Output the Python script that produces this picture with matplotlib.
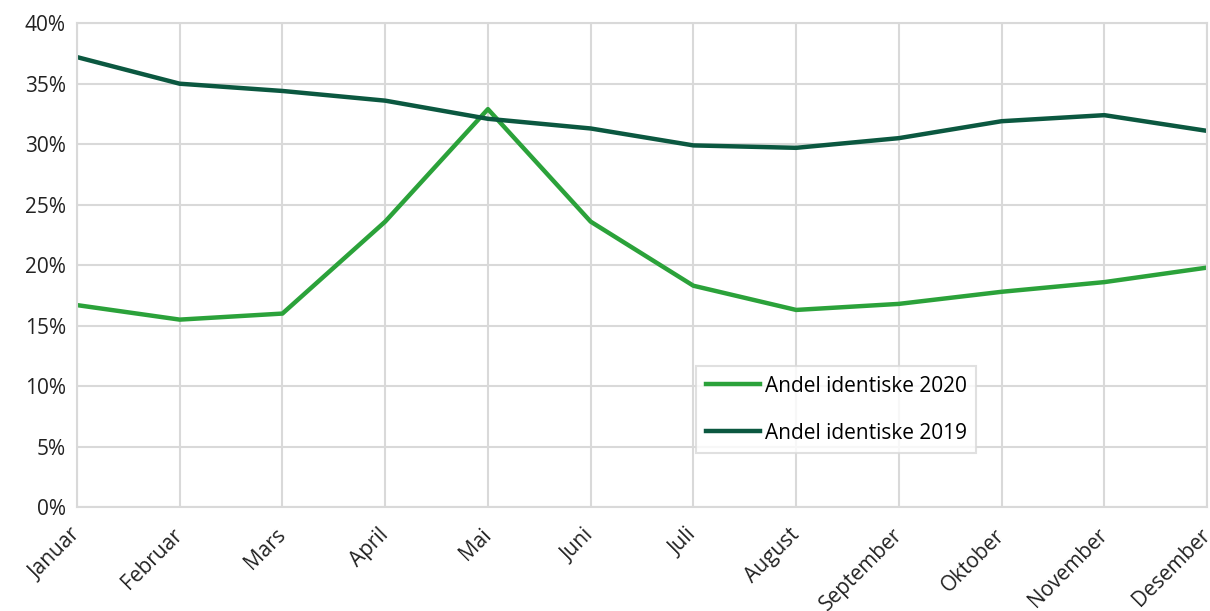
import numpy as np
import matplotlib.pyplot as plt
from matplotlib.ticker import PercentFormatter

plt.rcParams['font.family'] = ['Open Sans', 'DejaVu Sans']

months = ["Januar", "Februar", "Mars", "April", "Mai", "Juni", "Juli",
          "August", "September", "Oktober", "November", "Desember"]
share_2020 = [16.7, 15.5, 16.0, 23.6, 32.9, 23.6, 18.3, 16.3, 16.8, 17.8, 18.6, 19.8]
share_2019 = [37.2, 35.0, 34.4, 33.6, 32.1, 31.3, 29.9, 29.7, 30.5, 31.9, 32.4, 31.1]

fig = plt.figure(figsize=(12.1, 6.11), dpi=100)
ax = fig.add_axes([0.0636, 0.170, 0.934, 0.792])

x = np.arange(len(months))
ax.plot(x, share_2020, color="#2ba23a", linewidth=3.2, label="Andel identiske 2020")
ax.plot(x, share_2019, color="#0b5840", linewidth=3.2, label="Andel identiske 2019")

ax.set_xlim(0, len(months) - 1)
ax.set_ylim(0, 40)
ax.set_yticks(np.arange(0, 41, 5))
ax.yaxis.set_major_formatter(PercentFormatter(decimals=0))
ax.set_xticks(x)
ax.set_xticklabels(months, rotation=45, ha="right", va="center", rotation_mode="anchor")
ax.tick_params(axis="both", length=0, labelsize=15, colors="#222222")
ax.tick_params(axis="x", pad=18)
ax.tick_params(axis="y", pad=8)

ax.grid(True, color="#d9d9d9", linewidth=1.5)
ax.set_axisbelow(True)
for s in ax.spines.values():
    s.set_color("#d9d9d9")
    s.set_linewidth(1.5)

leg = ax.legend(loc="lower left", bbox_to_anchor=(0.548, 0.112), fontsize=15,
                frameon=True, fancybox=False, handlelength=2.6, labelspacing=1.25,
                borderpad=0.45, handletextpad=0.25, borderaxespad=0)
leg.get_frame().set_edgecolor("#d9d9d9")
leg.get_frame().set_linewidth(1.5)

fig.savefig("out.png", dpi=100)
